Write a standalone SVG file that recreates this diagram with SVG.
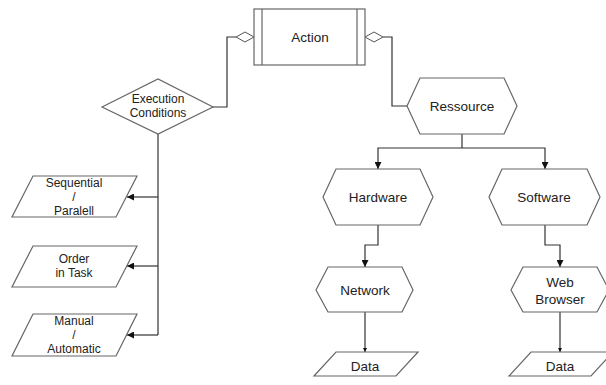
<svg xmlns="http://www.w3.org/2000/svg" width="606" height="385" viewBox="0 0 606 385">
<defs>
<style>
.shape{fill:#fff;stroke:#666;stroke-width:1.2}
.conn{fill:none;stroke:#333;stroke-width:1.2}
.agg{fill:#fff;stroke:#555;stroke-width:1}
text{font-family:"Liberation Sans",Arial,sans-serif;fill:#222;text-anchor:middle}
.big{font-size:13.5px}
.small{font-size:12px}
</style>
<marker id="arr" viewBox="0 0 10 10" refX="10" refY="5" markerWidth="7" markerHeight="7" markerUnits="userSpaceOnUse" orient="auto"><path d="M0,0 L10,5 L0,10 z" fill="#111"/></marker>
<marker id="arrS" viewBox="0 0 10 10" refX="10" refY="5" markerWidth="4" markerHeight="4" markerUnits="userSpaceOnUse" orient="auto"><path d="M0,0 L10,5 L0,10 z" fill="#111"/></marker>
</defs>
<rect width="606" height="385" fill="#fff"/>
<g id="connectors">
<path class="conn" d="M236,37 H227 V107 H212"/>
<path class="conn" d="M383,37 H392 V106 H407"/>
<path class="conn" d="M158,134 V335"/>
<path class="conn" d="M158,197 H127" marker-end="url(#arr)"/>
<path class="conn" d="M158,266 H127" marker-end="url(#arr)"/>
<path class="conn" d="M158,335 H127" marker-end="url(#arr)"/>
<path class="conn" d="M462,134 V148"/>
<path class="conn" d="M462,148 H378 V169" marker-end="url(#arr)"/>
<path class="conn" d="M462,148 H545 V169" marker-end="url(#arr)"/>
<path class="conn" d="M378,225 V245 H365 V267" marker-end="url(#arr)"/>
<path class="conn" d="M545,225 V245 H560 V267" marker-end="url(#arr)"/>
<path class="conn" d="M365,312 V352" marker-end="url(#arrS)"/>
<path class="conn" d="M560,312 V352" marker-end="url(#arrS)"/>
<polygon class="agg" points="236,37 245,32 254,37 245,42"/>
<polygon class="agg" points="365,37 374,32 383,37 374,42"/>
</g>
<g id="action">
<rect class="shape" x="254" y="9" width="111" height="56"/>
<line class="shape" x1="262" y1="9" x2="262" y2="65"/>
<line class="shape" x1="357" y1="9" x2="357" y2="65"/>
<text class="big" x="310" y="42">Action</text>
</g>
<g id="execution-conditions">
<polygon class="shape" points="102,107 158,79 213,107 158,134"/>
<text class="small" x="158" y="103">Execution</text>
<text class="small" x="158" y="117">Conditions</text>
</g>
<g id="sequential">
<polygon class="shape" points="33,176 137,176 116,217 12,217"/>
<text class="small" x="74" y="187">Sequential</text>
<text class="small" x="74" y="201">/</text>
<text class="small" x="74" y="215">Paralell</text>
</g>
<g id="order">
<polygon class="shape" points="33,246 137,246 116,287 12,287"/>
<text class="small" x="74" y="263">Order</text>
<text class="small" x="74" y="277">in Task</text>
</g>
<g id="manual">
<polygon class="shape" points="33,314 137,314 116,356 12,356"/>
<text class="small" x="74" y="325">Manual</text>
<text class="small" x="74" y="339">/</text>
<text class="small" x="74" y="353">Automatic</text>
</g>
<g id="ressource">
<polygon class="shape" points="407,106 420,78 504,78 517,106 504,134 420,134"/>
<text class="big" x="462" y="111">Ressource</text>
</g>
<g id="hardware">
<polygon class="shape" points="323,197 336,169 420,169 433,197 420,225 336,225"/>
<text class="big" x="378" y="202">Hardware</text>
</g>
<g id="software">
<polygon class="shape" points="489,197 502,169 587,169 600,197 587,225 502,225"/>
<text class="big" x="544" y="202">Software</text>
</g>
<g id="network">
<polygon class="shape" points="316,290 328,267 402,267 413,290 402,312 328,312"/>
<text class="big" x="365" y="295">Network</text>
</g>
<g id="web-browser">
<polygon class="shape" points="511,290 523,267 597,267 609,290 597,312 523,312"/>
<text class="big" x="560" y="286.5">Web</text>
<text class="big" x="560" y="304">Browser</text>
</g>
<g id="data-1">
<polygon class="shape" points="336,352 418,352 396,376 314,376"/>
<text class="big" x="365" y="371">Data</text>
</g>
<g id="data-2">
<polygon class="shape" points="531,352 613,352 591,376 509,376"/>
<text class="big" x="560" y="371">Data</text>
</g>
</svg>
